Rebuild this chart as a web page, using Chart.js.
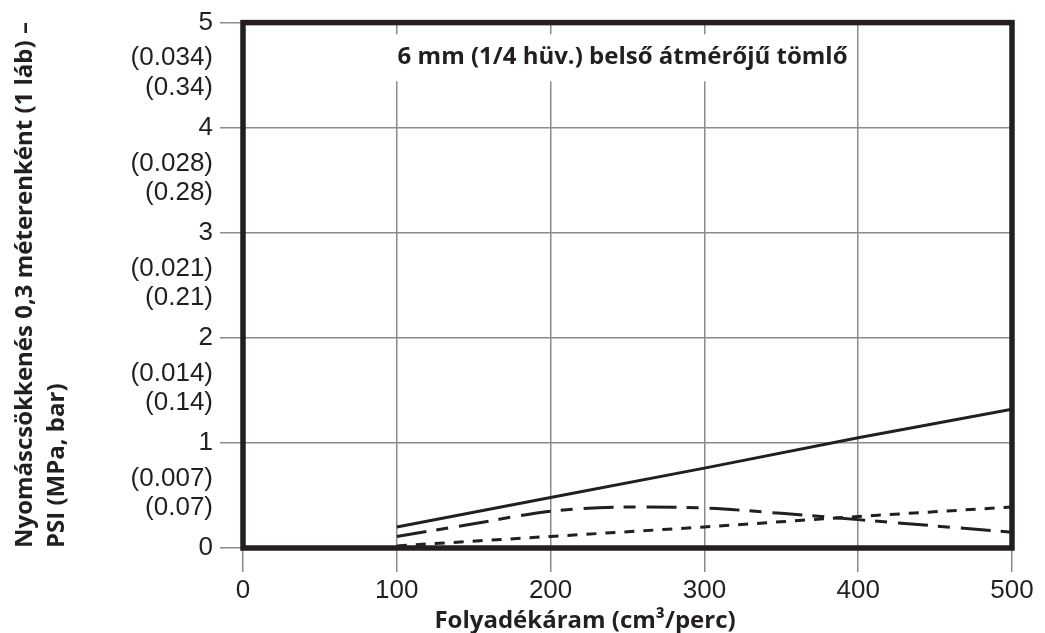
<!DOCTYPE html>
<html>
<head>
<meta charset="utf-8">
<script src="https://cdn.jsdelivr.net/npm/chart.js@4/dist/chart.umd.min.js"></script>
<style>
  html, body { margin: 0; padding: 0; background: #fff; }
  #wrap { width: 1045px; height: 633px; }
</style>
</head>
<body>
<div id="wrap"><canvas id="tube"></canvas></div>
<script>
/* Flow rate (cm3/perc) samples */
const flowCoarse = [100, 200, 300, 400, 500];
const flowFine = [100, 150, 200, 250, 300, 350, 400, 450, 500];

/* Pressure drop, PSI per 0.3 m */
const solidDrop = [0.20, 0.48, 0.76, 1.05, 1.32];
const longDashDrop = [0.11, 0.23, 0.35, 0.39, 0.38, 0.33, 0.27, 0.21, 0.15];
const shortDashDrop = [0.02, 0.11, 0.20, 0.30, 0.39];

/* Axis tick labels */
const xTicks = [0, 100, 200, 300, 400, 500];
const yPsiLabels = ['0', '1', '2', '3', '4', '5'];
const yMpaLabels = ['(0.007)', '(0.014)', '(0.021)', '(0.028)', '(0.034)'];
const yBarLabels = ['(0.07)', '(0.14)', '(0.21)', '(0.28)', '(0.34)'];

const chartTitle = '6 mm (1/4 hüv.) belső átmérőjű tömlő';
const xTitle = 'Folyadékáram (cm³/perc)';
const yTitle = ['Nyomáscsökkenés 0,3 méterenként (1 láb) –', 'PSI (MPa, bar)'];

const ink = '#231f20';
const gridGray = '#8c8c8c';
const labelFont = { family: "'Liberation Sans', Arial, sans-serif", size: 26 };
const boldFont = "bold 24px 'Open Sans', 'Noto Sans', sans-serif";

/* the MPa and bar labels sit between the whole PSI ticks */
const mpaOffset = 0.66;
const barOffset = 0.38;

function buildYTicks() {
  const ticks = [];
  yPsiLabels.forEach((label, i) => {
    ticks.push({ value: i, label: label });
    if (i < yMpaLabels.length) {
      ticks.push({ value: i + barOffset, label: yBarLabels[i] });
      ticks.push({ value: i + mpaOffset, label: yMpaLabels[i] });
    }
  });
  return ticks;
}
const yTickList = buildYTicks();

function toPoints(xs, ys) {
  return xs.map((x, i) => ({ x: x, y: ys[i] }));
}

function isWhole(v) {
  return Math.abs(v - Math.round(v)) < 1e-6;
}

/* white box with the hose size, over the grid */
const titleBoxPlugin = {
  id: 'titleBox',
  beforeDatasetsDraw(chart) {
    const ctx = chart.ctx;
    const cx = chart.scales.x.getPixelForValue(246.8);
    const cy = chart.scales.y.getPixelForValue(4.67);
    ctx.save();
    ctx.font = boldFont;
    const w = ctx.measureText(chartTitle).width;
    ctx.fillStyle = '#fff';
    ctx.fillRect(cx - w / 2 - 3, cy - 23, w + 6, 47);
    ctx.fillStyle = ink;
    ctx.textAlign = 'center';
    ctx.textBaseline = 'middle';
    ctx.fillText(chartTitle, cx, cy);
    ctx.restore();
  }
};

/* heavy frame round the plot and the x axis title */
const framePlugin = {
  id: 'frame',
  afterDraw(chart) {
    const a = chart.chartArea;
    const ctx = chart.ctx;
    ctx.save();
    ctx.strokeStyle = ink;
    ctx.lineWidth = 5.5;
    ctx.strokeRect(a.left, a.top, a.right - a.left, a.bottom - a.top);
    ctx.font = boldFont;
    ctx.fillStyle = ink;
    ctx.textAlign = 'center';
    ctx.textBaseline = 'middle';
    ctx.fillText(xTitle, 585, 621);
    ctx.restore();
  }
};

const data = {
  datasets: [
    {
      label: 'solid',
      data: toPoints(flowCoarse, solidDrop),
      borderColor: ink,
      borderWidth: 3,
      pointRadius: 0,
      tension: 0
    },
    {
      label: 'long dash',
      data: toPoints(flowFine, longDashDrop),
      borderColor: ink,
      borderWidth: 3,
      borderDash: [30, 10, 12, 11],
      pointRadius: 0,
      cubicInterpolationMode: 'monotone'
    },
    {
      label: 'short dash',
      data: toPoints(flowCoarse, shortDashDrop),
      borderColor: ink,
      borderWidth: 3,
      borderDash: [10, 9],
      pointRadius: 0,
      tension: 0
    }
  ]
};

const config = {
  type: 'line',
  data: data,
  options: {
    responsive: true,
    maintainAspectRatio: false,
    animation: false,
    layout: { padding: { left: 0, right: 33, top: 20, bottom: 0 } },
    plugins: {
      legend: { display: false },
      tooltip: { enabled: false }
    },
    scales: {
      x: {
        type: 'linear',
        min: 0,
        max: 500,
        afterBuildTicks: scale => { scale.ticks = xTicks.map(v => ({ value: v })); },
        afterFit: scale => { scale.height = 85; },
        border: { display: false },
        grid: { color: gridGray, lineWidth: 1.5, tickLength: 24 },
        ticks: { color: ink, font: labelFont, padding: 3, maxRotation: 0 }
      },
      y: {
        type: 'linear',
        min: 0,
        max: 5,
        afterBuildTicks: scale => { scale.ticks = yTickList.map(t => ({ value: t.value })); },
        afterFit: scale => { scale.width = 243; },
        border: { display: false },
        grid: {
          color: c => (c.tick && isWhole(c.tick.value) ? gridGray : 'rgba(0,0,0,0)'),
          lineWidth: 1.5,
          tickLength: 23
        },
        ticks: {
          color: ink,
          font: labelFont,
          padding: 7,
          autoSkip: false,
          callback: (value, index) => yTickList[index].label
        },
        title: {
          display: true,
          text: yTitle,
          align: 'start',
          color: ink,
          font: { family: "'Open Sans', 'Noto Sans', sans-serif", size: 24, weight: 'bold', lineHeight: 1.34 },
          padding: { top: 9, bottom: 0 }
        }
      }
    }
  },
  plugins: [titleBoxPlugin, framePlugin]
};

const tubeChart = new Chart(document.getElementById('tube').getContext('2d'), config);
</script>
</body>
</html>
